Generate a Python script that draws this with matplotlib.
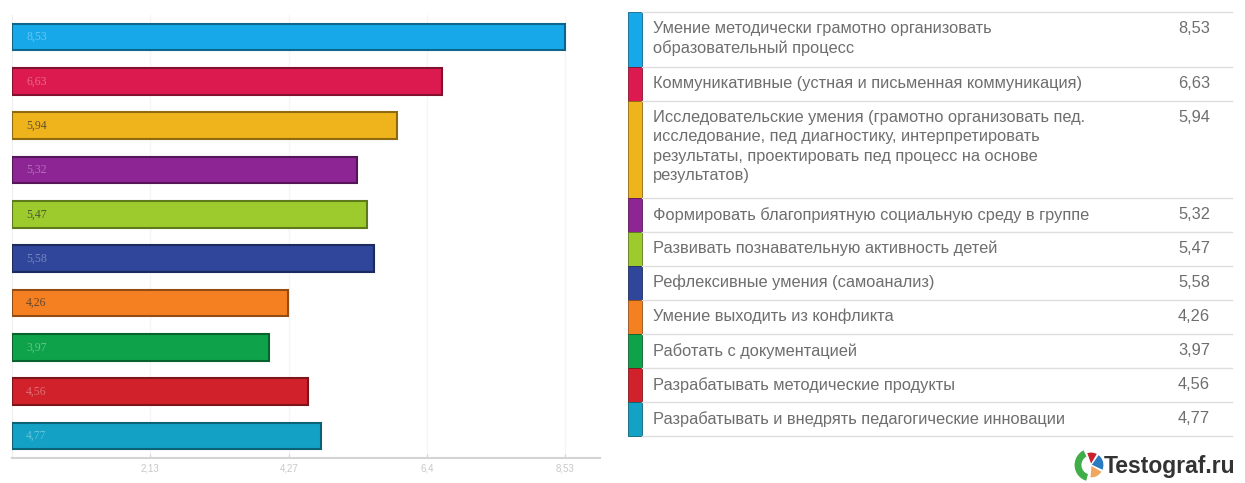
import matplotlib.pyplot as plt
import matplotlib.colors as mcolors
from matplotlib.patches import Rectangle, Wedge

plt.rcParams['font.family'] = ['Liberation Sans', 'DejaVu Sans']

# данные
labels = [
    "Умение методически грамотно организовать\nобразовательный процесс",
    "Коммуникативные (устная и письменная коммуникация)",
    "Исследовательские умения (грамотно организовать пед.\nисследование, пед диагностику, интерпретировать\nрезультаты, проектировать пед процесс на основе\nрезультатов)",
    "Формировать благоприятную социальную среду в группе",
    "Развивать познавательную активность детей",
    "Рефлексивные умения (самоанализ)",
    "Умение выходить из конфликта",
    "Работать с документацией",
    "Разрабатывать методические продукты",
    "Разрабатывать и внедрять педагогические инновации",
]
values = [8.53, 6.63, 5.94, 5.32, 5.47, 5.58, 4.26, 3.97, 4.56, 4.77]
value_text = ["8,53", "6,63", "5,94", "5,32", "5,47", "5,58", "4,26", "3,97", "4,56", "4,77"]
colors = ["#17a8ea", "#dc1a4f", "#efb31b", "#8d2595", "#9dcb2d",
          "#2f469b", "#f58021", "#0ea34b", "#d1212b", "#13a2c5"]
dark_label = [False, False, True, False, True, False, True, False, False, False]
ticks = [2.13, 4.27, 6.40, 8.53]
tick_labels = ["2,13", "4,27", "6,4", "8,53"]


def darker(c, k=0.6):
    return tuple(ch * k for ch in mcolors.to_rgb(c))


W, H = 1245, 483
fig = plt.figure(figsize=(W / 100, H / 100), dpi=100)

# --- левая часть: горизонтальные столбцы ---
ax = fig.add_axes([12 / W, 1 - 458 / H, 588 / W, 443 / H])
for i, (v, c) in enumerate(zip(values, colors)):
    ax.barh(i, v, height=0.6, color=c, edgecolor=darker(c), linewidth=1.5, zorder=3)
    tc = (0.2, 0.2, 0.2, 0.75) if dark_label[i] else (1, 1, 1, 0.35)
    ax.text(0.22, i, value_text[i], va='center', ha='left', fontsize=8.5,
            family='Liberation Serif', color=tc, zorder=4)
ax.set_ylim(len(values) - 0.5, -0.5)
ax.set_xlim(0, 9.07)
ax.set_yticks([])
ax.set_xticks(ticks)
ax.set_xticklabels(tick_labels, fontsize=7, color='#c8c8c8')
ax.tick_params(axis='x', direction='in', length=3, color='#d0d0d0', pad=4)
ax.grid(axis='x', color='#f5f5f5', linewidth=1, zorder=0)
for s in ['top', 'right']:
    ax.spines[s].set_visible(False)
ax.spines['left'].set_color('#eeeeee')
ax.spines['bottom'].set_color('#d4d4d4')
ax.spines['bottom'].set_linewidth(1.5)

# --- правая часть: легенда-таблица ---
tx = fig.add_axes([0, 0, 1, 1])
tx.set_xlim(0, W)
tx.set_ylim(H, 0)
tx.axis('off')

y = 12
tx.plot([642, 1232], [y, y], color='#dedede', lw=1)
for lab, vt, c in zip(labels, value_text, colors):
    n = lab.count('\n') + 1
    h = 13 + 21 * n
    tx.add_patch(Rectangle((628, y), 14, h, facecolor=c, edgecolor=darker(c), lw=0.6))
    tx.text(653, y + 9, lab, va='top', ha='left', fontsize=11.8,
            color='#6e6e6e', linespacing=1.36)
    tx.text(1210, y + 9, vt, va='top', ha='right', fontsize=11.8, color='#6e6e6e')
    y += h
    tx.plot([642, 1232], [y, y], color='#dedede', lw=1)

# логотип
cx, cy = 1091, 465
logo_parts = [(115, 255, "#3fae49", 8), (60, 110, "#c8202f", None),
              (-25, 55, "#2a7bc0", None), (-95, -30, "#f0a860", None)]
for a1, a2, c, wd in logo_parts:
    r = 17 if c == "#3fae49" else 13
    tx.add_patch(Wedge((cx, cy), r, -a2, -a1, width=wd,
                       facecolor=c, edgecolor='white', lw=0.8))
tx.text(1104, cy + 1, "Testograf.ru", va='center', ha='left', fontsize=16.5,
        color='#333333', weight='bold')

fig.savefig('out.png', dpi=100)
